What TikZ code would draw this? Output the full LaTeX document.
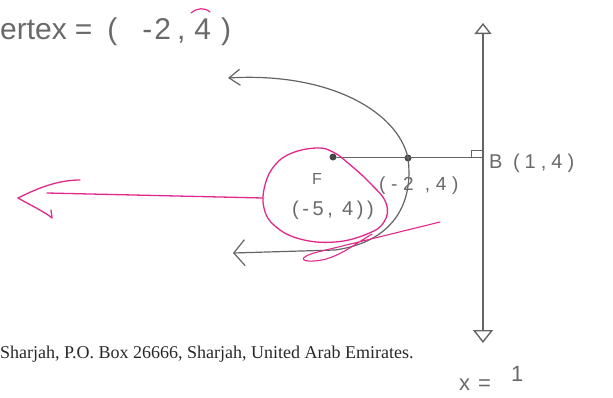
\documentclass[tikz,border=0pt]{standalone}
\usepackage{fontspec}
\setmainfont{Liberation Serif}
\newfontfamily\handfont{Liberation Sans}
\usetikzlibrary{arrows.meta}
\definecolor{pen}{RGB}{100,100,100}
\definecolor{penlight}{RGB}{105,105,105}
\definecolor{mag}{RGB}{226,40,140}
\definecolor{captext}{RGB}{40,40,40}
\begin{document}
\begin{tikzpicture}[x=1pt,y=-1pt,
  penline/.style={draw=pen,line width=1.2pt,line cap=round,line join=round},
  magline/.style={draw=mag,line width=1.3pt,line cap=round,line join=round},
  handlabel/.style={text=penlight,inner sep=0pt},
  dotmark/.style={circle,fill=pen!70!black,inner sep=0pt,minimum size=7pt}]
\useasboundingbox (0,0) rectangle (613,397);
% points
\node[dotmark] (F) at (333,157) {};
\node[dotmark] (V) at (408,158) {};
\coordinate (foot) at (483,157);
\coordinate (dtop) at (483,23);
\coordinate (dbot) at (483,343);
\coordinate (upTip) at (228,78);
\coordinate (lowTip) at (233,253);
\coordinate (blobW) at (263,198);
\coordinate (shaftEnd) at (47,193);
\coordinate (magTip) at (18,198);
\coordinate (tanR) at (440,222);
% directrix
\draw[penline,line width=1.4pt,{Triangle[open,length=11pt,width=17pt]}-{Triangle[open,length=13pt,width=20pt]}] (dtop) -- (dbot);
% axis and right angle
\draw[penline,line width=0.9pt] (F) -- (foot);
\draw[penline,line width=0.9pt] (foot) ++(-12,0) -- ++(0,-7) -- ++(12,0);
% parabola
\draw[penline,-{Straight Barb[length=11pt,width=16pt]}] (V.center) .. controls (398,112) and (330,72) .. (upTip);
\draw[penline,-{Straight Barb[length=11pt,width=26pt]}] (V.center) .. controls (414,205) and (392,242) .. (335,250) -- (lowTip);
% magenta blob round the focus
\draw[magline] plot[smooth cycle,tension=0.7] coordinates {(317,148) (333,152) (348,163) (370,183) (386,203) (384,222) (367,234) (335,242) (300,239) (275,226) (264,208) (265,185) (275,165) (292,153)};
% magenta arrow to the left
\draw[magline] (blobW) -- (shaftEnd);
\draw[magline] (magTip) .. controls (38,188) and (58,180) .. (80,180) -- (75,180);
\draw[magline] (magTip) .. controls (32,206) and (45,212) .. (52,218) -- (51,210);
% magenta tangent stroke
\draw[magline,line width=1.1pt] (tanR) -- (322,251) .. controls (302,255) and (296,262) .. (314,261) .. controls (335,260) and (352,246) .. (372,234);
% hat over the 4
\draw[magline,line width=1.2pt] (191,13) .. controls (197,8) and (204,7) .. (210,12);
% labels
\node[handlabel,anchor=base west,font=\handfont\fontsize{30}{32}\selectfont] (title) at (0,39) {ertex\hspace{8pt}=\hspace{15pt}(\hspace{25pt}-\hspace{2pt}2\hspace{6pt},\hspace{9pt}4\hspace{10pt})};
\node[handlabel,anchor=base west,font=\handfont\fontsize{20}{22}\selectfont] (Blab) at (489,168) {\addfontfeatures{LetterSpace=25}B (1,4)};
\node[handlabel,anchor=base west,font=\handfont\fontsize{19}{21}\selectfont] (Vlab) at (379,190) {\addfontfeatures{LetterSpace=30}(-2 ,4)};
\node[handlabel,font=\handfont\fontsize{16}{18}\selectfont] (Flab) at (317,179) {F};
\node[handlabel,anchor=base west,font=\handfont\fontsize{20}{22}\selectfont] (Fcoord) at (292,215) {\addfontfeatures{LetterSpace=18}(-5, 4))};
\node[handlabel,anchor=base west,font=\handfont\fontsize{22}{24}\selectfont] (xeq) at (459,390) {x\hspace{8pt}=\hspace{20pt}\raisebox{9pt}{1}};
\node[anchor=base west,inner sep=0pt,text=captext,font=\fontsize{18}{20}\selectfont] (caption) at (0,358) {Sharjah, P.O. Box 26666, Sharjah, United Arab Emirates.};
\end{tikzpicture}
\end{document}
